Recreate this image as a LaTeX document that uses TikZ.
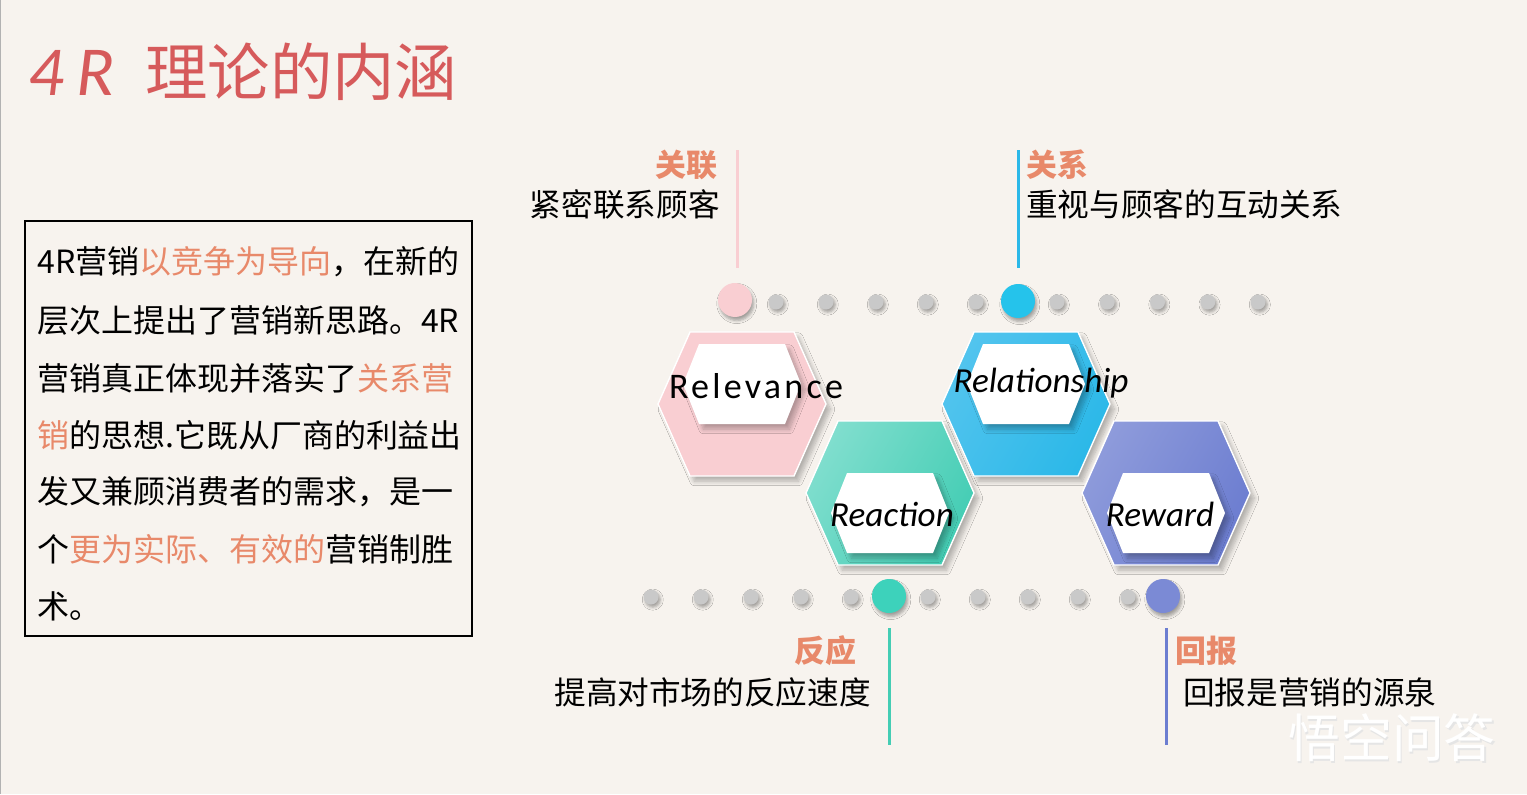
\documentclass[tikz,border=0pt]{standalone}
\usepackage{fontspec}
\usepackage{tikz}
\usetikzlibrary{shadows.blur}

\newfontfamily\cjk{Noto Sans CJK SC}
\newfontfamily\calib{Carlito}
\newfontfamily\calibsp{Carlito}[LetterSpace=9]

\definecolor{bgcream}{HTML}{F7F3EE}
\definecolor{titlered}{HTML}{D65A5B}
\definecolor{rorange}{HTML}{E8896A}
\definecolor{dotgrey}{HTML}{C9C9C9}
\definecolor{rpink}{HTML}{F9CED2}
\definecolor{rteal}{HTML}{44CDB4}
\definecolor{rtealhi}{HTML}{80DECE}
\definecolor{rcyan}{HTML}{2BB8E8}
\definecolor{rcyanhi}{HTML}{52C4EE}
\definecolor{rblue}{HTML}{6C7DD0}
\definecolor{rbluehi}{HTML}{8E9BDB}

\tikzset{
    greydot/.style={circle, fill=dotgrey, minimum size=0.3cm, inner sep=0,
        blur shadow={shadow xshift=1pt, shadow yshift=-1.5pt, shadow blur steps=4, shadow opacity=35}},
    bigdot/.style={circle, fill=#1, minimum size=0.68cm, inner sep=0,
        blur shadow={shadow xshift=1pt, shadow yshift=-2pt, shadow blur steps=5, shadow opacity=35}},
    hexshadow/.style={blur shadow={shadow xshift=2.5pt, shadow yshift=-3pt, shadow blur radius=2.5pt, shadow blur steps=8, shadow opacity=28}},
    bodytxt/.style={font=\cjk\fontsize{18.2}{20}\selectfont, inner sep=0, anchor=west},
    headtxt/.style={font=\cjk\bfseries\fontsize{17.6}{19}\selectfont, text=rorange, inner sep=0},
    desctxt/.style={font=\cjk\fontsize{18}{20}\selectfont, inner sep=0},
    handtxt/.style={font=\calib\itshape\fontsize{20}{22}\selectfont, inner sep=0},
    stem/.style={line width=1.7pt, draw=#1},
}

\begin{document}
\begin{tikzpicture}[x=0.02cm, y=-0.02cm]
    \fill[bgcream] (0,0) rectangle (1527,794);
    \useasboundingbox (0,0) rectangle (1527,794);
    \draw[black!30, line width=1pt] (0.5,0) -- (0.5,794);

    % title
    \node[anchor=west, inner sep=0, text=titlered, font=\calib\itshape\fontsize{40}{42}\selectfont] (t4r) at (28,73) {4\kern7pt R};
    \node[anchor=west, inner sep=0, text=titlered, font=\cjk\fontsize{35.5}{38}\selectfont] (tcn) at (145,72) {理论的内涵};

    % text box
    \draw[line width=1.1pt] (25,221) rectangle (472,636);
    \node[bodytxt] (l1) at (37,262) {4R营销\textcolor{rorange}{以竞争为导向}，在新的};
    \node[bodytxt] (l2) at (37,320) {层次上提出了营销新思路。4R};
    \node[bodytxt] (l3) at (37,378) {营销真正体现并落实了\textcolor{rorange}{关系营}};
    \node[bodytxt] (l4) at (37,435) {\textcolor{rorange}{销}的思想.它既从厂商的利益出};
    \node[bodytxt] (l5) at (37,492) {发又兼顾消费者的需求，是一};
    \node[bodytxt] (l6) at (37,549) {个\textcolor{rorange}{更为实际、有效的}营销制胜};
    \node[bodytxt] (l7) at (37,606) {术。};

    % dot rows
    \foreach \i in {0,...,4} {
        \node[greydot] at (776+50*\i,302) {};
        \node[greydot] at (1057+50.25*\i,302) {};
        \node[greydot] at (651+50*\i,597) {};
        \node[greydot] at (928+50*\i,597) {};
    }
    \node[bigdot=rpink] (dpink) at (735,300) {};
    \node[bigdot=rcyan!85!cyan] (dcyan) at (1018,301) {};
    \node[bigdot=rteal!90!cyan] (dteal) at (889,596) {};
    \node[bigdot=rblue!90!white] (dblue) at (1163,596) {};

    % hexagons
    \foreach \n/\cx/\cy/\dy/\ca/\cb in {relev/742/404/-20/rpink/rpink,
            react/890/493/20/rtealhi/rteal,
            relat/1026/404/-20/rcyanhi/rcyan,
            rewrd/1166/493/20/rbluehi/rblue} {
        \path[hexshadow, left color=\ca, right color=\cb, shading angle=60, draw=white, line width=0.8pt]
            (\cx-84,\cy) -- ++(32,-72) -- ++(104,0) -- ++(32,72) -- ++(-32,72) -- ++(-104,0) -- cycle;
        \path[fill=white, hexshadow]
            (\cx-59,\cy+\dy) -- ++(16,-40) -- ++(86,0) -- ++(16,40) -- ++(-16,40) -- ++(-86,0) -- cycle;
        \coordinate (\n) at (\cx,\cy+\dy);
    }
    \node[inner sep=0, font=\calibsp\fontsize{20.5}{22}\selectfont] (trelev) at (756,386) {Relevance};
    \node[handtxt] (trelat) at (1041,383) {Relationship};
    \node[handtxt] (treact) at (892,514) {Reaction};
    \node[handtxt] (trewrd) at (1160,514) {Reward};

    % stems
    \coordinate (pinktop) at (737,150);
    \coordinate (pinkbot) at (737,268);
    \coordinate (cyantop) at (1018,150);
    \coordinate (cyanbot) at (1018,268);
    \coordinate (tealtop) at (889,628);
    \coordinate (tealbot) at (889,745);
    \coordinate (bluetop) at (1166,628);
    \coordinate (bluebot) at (1166,745);
    \draw[stem=rpink] (pinktop) -- (pinkbot);
    \draw[stem=rcyan] (cyantop) -- (cyanbot);
    \draw[stem=rteal] (tealtop) -- (tealbot);
    \draw[stem=rblue] (bluetop) -- (bluebot);

    % captions
    \node[headtxt, anchor=east] (hrelev) at (718,165) {关联};
    \node[desctxt, anchor=east] (drelev) at (720,204) {紧密联系顾客};
    \node[headtxt, anchor=west] (hrelat) at (1026,165) {关系};
    \node[desctxt, anchor=west] (drelat) at (1026,204) {重视与顾客的互动关系};
    \node[headtxt, anchor=east] (hreact) at (857,651) {反应};
    \node[desctxt, anchor=east] (dreact) at (871,692) {提高对市场的反应速度};
    \node[headtxt, anchor=west] (hrewrd) at (1175,651) {回报};
    \node[desctxt, anchor=west] (drewrd) at (1183,692) {回报是营销的源泉};

    % watermark
    \node[anchor=west, inner sep=0, text=black!10, font=\cjk\fontsize{29.5}{31}\selectfont] (wmshade) at (1289.5,739.5) {悟空问答};
    \node[anchor=west, inner sep=0, text=white, font=\cjk\fontsize{29.5}{31}\selectfont] (wmark) at (1288,738) {悟空问答};
\end{tikzpicture}
\end{document}
